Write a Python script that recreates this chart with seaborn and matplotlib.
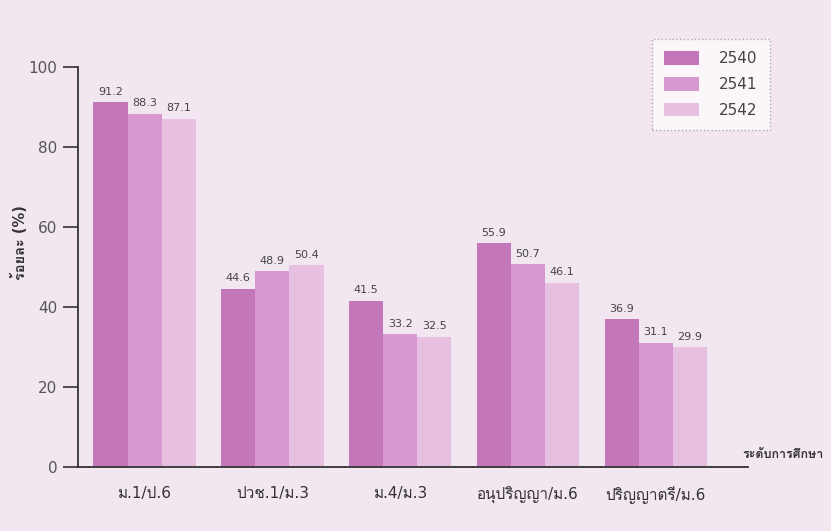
import pandas as pd
import matplotlib.pyplot as plt
import seaborn as sns
from matplotlib import font_manager

# data
levels = ["ม.1/ป.6", "ปวช.1/ม.3", "ม.4/ม.3", "อนุปริญญา/ม.6", "ปริญญาตรี/ม.6"]
years = ["2540", "2541", "2542"]
y2540 = [91.2, 44.6, 41.5, 55.9, 36.9]
y2541 = [88.3, 48.9, 33.2, 50.7, 31.1]
y2542 = [87.1, 50.4, 32.5, 46.1, 29.9]

rows = []
for yr, vals in zip(years, [y2540, y2541, y2542]):
    for lv, v in zip(levels, vals):
        rows.append({"level": lv, "year": yr, "pct": v})
df = pd.DataFrame(rows)

sns.set_style("ticks")

# look for any installed font that has Thai glyphs
thai_names = ["Thai", "Loma", "Garuda", "Kinnari", "Norasi", "Sawasdee",
              "Umpush", "Waree", "Tlwg", "Laksaman", "Purisa"]
found = []
for f in font_manager.fontManager.ttflist:
    if any(k in f.name for k in thai_names) and f.name not in found:
        found.append(f.name)
families = ["DejaVu Sans"] + found
plt.rcParams["font.family"] = families

bg = "#f2e6f0"
colors = ["#c476ba", "#d698ce", "#e7bfe1"]

fig = plt.figure(figsize=(8.31, 5.31), dpi=100, facecolor=bg)
ax = fig.add_axes([0.094, 0.1205, 0.806, 0.7535])
ax.set_facecolor(bg)

sns.barplot(data=df, x="level", y="pct", hue="year", palette=colors,
            width=0.8, saturation=1, ax=ax, edgecolor="none")

for cont in ax.containers:
    ax.bar_label(cont, fmt="%.1f", padding=4, fontsize=8, color="#444444")

ax.set_ylim(0, 100)
ax.set_xlim(-0.52, 4.72)
ax.set_yticks([0, 20, 40, 60, 80, 100])
ax.tick_params(axis="y", length=11, width=1.2, labelsize=11, colors="#333333",
               labelcolor="#555555", pad=4)
ax.tick_params(axis="x", length=0, labelsize=11, labelcolor="#333333", pad=14)
sns.despine(ax=ax)
ax.spines["left"].set_linewidth(1.3)
ax.spines["bottom"].set_linewidth(1.3)
ax.spines["left"].set_color("#333333")
ax.spines["bottom"].set_color("#333333")

ax.set_xlabel("")
ax.set_ylabel("ร้อยละ (%)", fontsize=10.5, fontweight="bold", color="#333333")
ax.yaxis.set_label_coords(-0.075, 0.56)
fig.text(0.893, 0.145, "ระดับการศึกษา", fontsize=9, fontweight="bold",
         color="#333333", ha="left", va="center")

leg = ax.legend(loc="upper right", bbox_to_anchor=(1.033, 1.07), frameon=True,
                fontsize=11, handlelength=2.3, handleheight=1.0,
                handletextpad=1.3, labelspacing=0.7, borderpad=0.8,
                borderaxespad=0, fancybox=False)
leg.get_frame().set_facecolor("#fbf6fa")
leg.get_frame().set_edgecolor("#aaaaaa")
leg.get_frame().set_linestyle(":")
leg.get_frame().set_alpha(1)
for t in leg.get_texts():
    t.set_color("#444444")

fig.savefig("out.png", dpi=100, facecolor=bg)
